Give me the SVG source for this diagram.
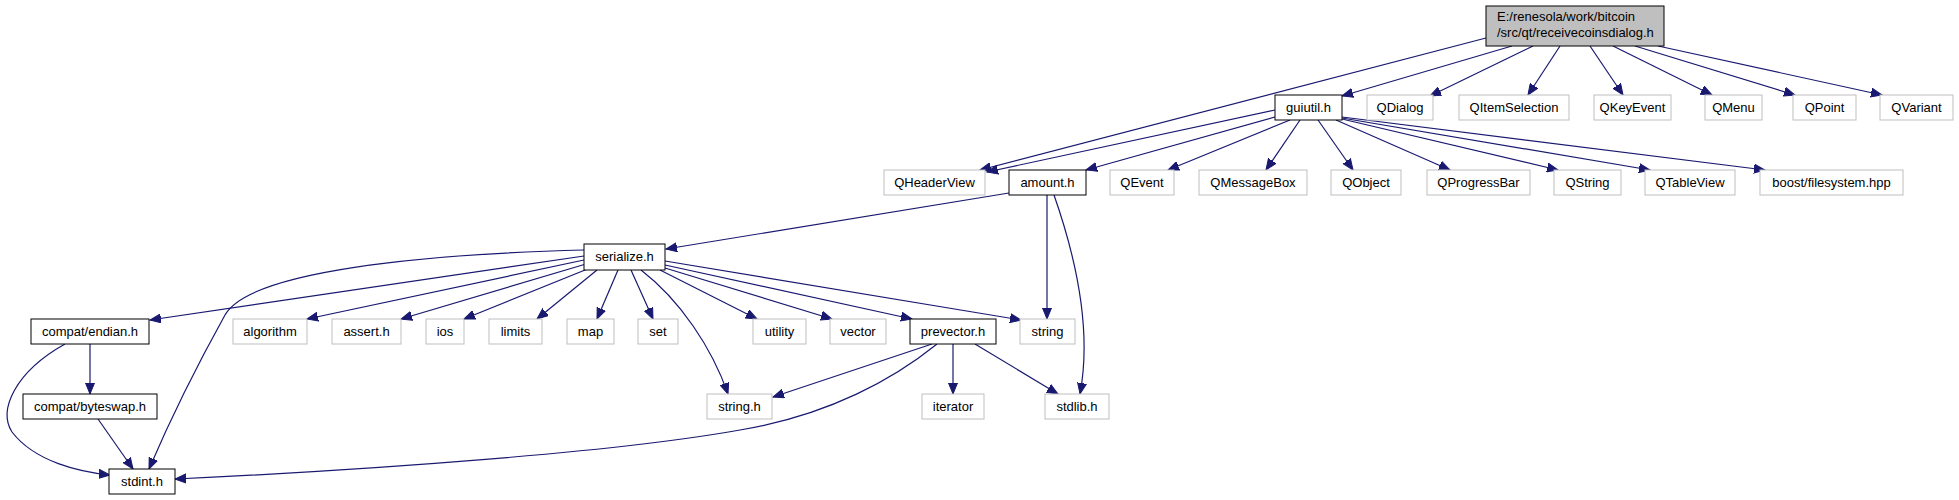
<svg xmlns="http://www.w3.org/2000/svg" width="1959" height="500" viewBox="0 0 1959 500">
<style>
.n rect{fill:#fff;stroke:#000;stroke-width:1}
.g rect{fill:#fff;stroke:#bfbfbf;stroke-width:1}
.m rect{fill:#bfbfbf;stroke:#000;stroke-width:1}
text{font-family:"Liberation Sans",Arial,sans-serif;font-size:13px;fill:#000}
.c text{text-anchor:middle}
#edges path{fill:none;stroke:#191970;stroke-width:1.2;marker-end:url(#a)}
</style>
<defs>
<marker id="a" markerWidth="12" markerHeight="10" refX="11" refY="5" orient="auto" markerUnits="userSpaceOnUse">
<path d="M0,0.5 L11,5 L0,9.5 z" fill="#191970" stroke="#191970" stroke-width="1"/>
</marker>
</defs>
<rect width="1959" height="500" fill="#fff"/>
<g id="edges">
<path d="M1486,38 L980,170"/>
<path d="M1512,46 L1342,96"/>
<path d="M1533,46 L1430,96"/>
<path d="M1560,46 L1528,95"/>
<path d="M1590,46 L1623,95"/>
<path d="M1613,46 L1712,95"/>
<path d="M1635,46 L1795,95"/>
<path d="M1658,46 L1882,95"/>
<path d="M1275,110 L987,172"/>
<path d="M1275,117 L1086,170"/>
<path d="M1290,120 L1168,170"/>
<path d="M1300,120 L1266,170"/>
<path d="M1318,120 L1353,170"/>
<path d="M1336,120 L1450,170"/>
<path d="M1342,119 L1558,170"/>
<path d="M1342,118 L1650,170"/>
<path d="M1342,117 L1765,170"/>
<path d="M1009,193 L666,249"/>
<path d="M1047,195 L1047,319"/>
<path d="M1054,195 C1075,255 1092,330 1080,394"/>
<path d="M584,256 L150,320"/>
<path d="M584,250 C430,254 250,270 225,315 C200,360 170,420 149,469"/>
<path d="M584,260 L307,319"/>
<path d="M586,264 L401,319"/>
<path d="M590,268 L464,319"/>
<path d="M597,270 L537,319"/>
<path d="M618,270 L597,319"/>
<path d="M631,270 L653,319"/>
<path d="M641,270 C680,300 712,348 728,394"/>
<path d="M660,270 L757,319"/>
<path d="M665,268 L832,319"/>
<path d="M665,265 L912,319"/>
<path d="M665,261 L1021,320"/>
<path d="M90,344 L90,394"/>
<path d="M65,344 C15,372 -2,410 12,432 C35,462 80,472 110,475"/>
<path d="M98,419 L133,469"/>
<path d="M932,344 L773,397"/>
<path d="M953,344 L953,394"/>
<path d="M975,344 L1058,394"/>
<path d="M937,344 C895,378 830,415 740,430 C620,452 370,470 175,479"/>
</g>
<g id="main" class="m"><rect x="1486" y="6" width="178" height="40"/><text x="1497" y="21">E:/renesola/work/bitcoin</text><text x="1497" y="37">/src/qt/receivecoinsdialog.h</text></g>
<g id="guiutil" class="n c"><rect x="1275" y="95" width="67" height="25"/><text x="1308.5" y="112">guiutil.h</text></g>
<g id="QDialog" class="g c"><rect x="1367" y="95" width="66" height="25"/><text x="1400" y="112">QDialog</text></g>
<g id="QItemSelection" class="g c"><rect x="1459" y="95" width="110" height="25"/><text x="1514" y="112">QItemSelection</text></g>
<g id="QKeyEvent" class="g c"><rect x="1594" y="95" width="77" height="25"/><text x="1632.5" y="112">QKeyEvent</text></g>
<g id="QMenu" class="g c"><rect x="1705" y="95" width="57" height="25"/><text x="1733.5" y="112">QMenu</text></g>
<g id="QPoint" class="g c"><rect x="1793" y="95" width="63" height="25"/><text x="1824.5" y="112">QPoint</text></g>
<g id="QVariant" class="g c"><rect x="1880" y="95" width="73" height="25"/><text x="1916.5" y="112">QVariant</text></g>
<g id="QHeaderView" class="g c"><rect x="884" y="170" width="101" height="25"/><text x="934.5" y="187">QHeaderView</text></g>
<g id="amount" class="n c"><rect x="1009" y="170" width="77" height="25"/><text x="1047.5" y="187">amount.h</text></g>
<g id="QEvent" class="g c"><rect x="1110" y="170" width="64" height="25"/><text x="1142" y="187">QEvent</text></g>
<g id="QMessageBox" class="g c"><rect x="1199" y="170" width="108" height="25"/><text x="1253" y="187">QMessageBox</text></g>
<g id="QObject" class="g c"><rect x="1331" y="170" width="70" height="25"/><text x="1366" y="187">QObject</text></g>
<g id="QProgressBar" class="g c"><rect x="1427" y="170" width="103" height="25"/><text x="1478.5" y="187">QProgressBar</text></g>
<g id="QString" class="g c"><rect x="1554" y="170" width="67" height="25"/><text x="1587.5" y="187">QString</text></g>
<g id="QTableView" class="g c"><rect x="1645" y="170" width="90" height="25"/><text x="1690" y="187">QTableView</text></g>
<g id="boost" class="g c"><rect x="1760" y="170" width="143" height="25"/><text x="1831.5" y="187">boost/filesystem.hpp</text></g>
<g id="serialize" class="n c"><rect x="584" y="244" width="81" height="26"/><text x="624.5" y="261">serialize.h</text></g>
<g id="endian" class="n c"><rect x="31" y="319" width="118" height="25"/><text x="90" y="336">compat/endian.h</text></g>
<g id="algorithm" class="g c"><rect x="233" y="319" width="74" height="25"/><text x="270" y="336">algorithm</text></g>
<g id="assert" class="g c"><rect x="332" y="319" width="69" height="25"/><text x="366.5" y="336">assert.h</text></g>
<g id="ios" class="g c"><rect x="426" y="319" width="38" height="25"/><text x="445" y="336">ios</text></g>
<g id="limits" class="g c"><rect x="489" y="319" width="53" height="25"/><text x="515.5" y="336">limits</text></g>
<g id="map" class="g c"><rect x="567" y="319" width="47" height="25"/><text x="590.5" y="336">map</text></g>
<g id="set" class="g c"><rect x="638" y="319" width="40" height="25"/><text x="658" y="336">set</text></g>
<g id="utility" class="g c"><rect x="753" y="319" width="53" height="25"/><text x="779.5" y="336">utility</text></g>
<g id="vector" class="g c"><rect x="830" y="319" width="56" height="25"/><text x="858" y="336">vector</text></g>
<g id="prevector" class="n c"><rect x="910" y="319" width="86" height="25"/><text x="953" y="336">prevector.h</text></g>
<g id="string" class="g c"><rect x="1020" y="319" width="55" height="25"/><text x="1047.5" y="336">string</text></g>
<g id="byteswap" class="n c"><rect x="23" y="394" width="134" height="25"/><text x="90" y="411">compat/byteswap.h</text></g>
<g id="stringh" class="g c"><rect x="707" y="394" width="65" height="25"/><text x="739.5" y="411">string.h</text></g>
<g id="iterator" class="g c"><rect x="922" y="394" width="62" height="25"/><text x="953" y="411">iterator</text></g>
<g id="stdlib" class="g c"><rect x="1045" y="394" width="64" height="25"/><text x="1077" y="411">stdlib.h</text></g>
<g id="stdint" class="n c"><rect x="109" y="469" width="66" height="25"/><text x="142" y="486">stdint.h</text></g>
</svg>
